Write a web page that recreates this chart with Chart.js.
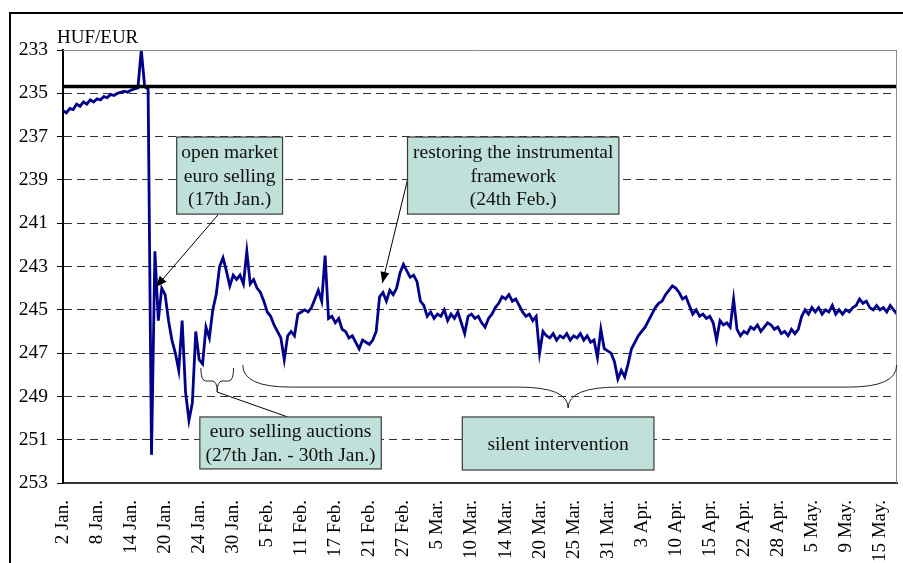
<!DOCTYPE html>
<html>
<head>
<meta charset="utf-8">
<script src="https://cdn.jsdelivr.net/npm/chart.js@4.4.1/dist/chart.umd.min.js"></script>
<style>
  body { margin: 0; background: #fff; }
</style>
</head>
<body>
<canvas id="rate" width="903" height="563"></canvas>
<script>
'use strict';

// tick labels on the x axis (one per label step)
var tickLabels = ['2 Jan.', '8 Jan.', '14 Jan.', '20 Jan.', '24 Jan.', '30 Jan.', '5 Feb.', '11 Feb.',
    '17 Feb.', '21 Feb.', '27 Feb.', '5 Mar.', '10 Mar.', '14 Mar.', '20 Mar.', '25 Mar.', '31 Mar.',
    '3 Apr.', '10 Apr.', '15 Apr.', '22 Apr.', '28 Apr.', '5 May.', '9 May.', '15 May.'];

var yTicks = [233, 235, 237, 239, 241, 243, 245, 247, 249, 251, 253];

// HUF/EUR, every tenth of a label step
var pointStep = 0.1;
var rateValues = [
    235.8, 235.9, 235.7, 235.75, 235.5, 235.6, 235.4, 235.5, 235.3, 235.4,
    235.25, 235.3, 235.15, 235.2, 235.05, 235.1, 235.0, 234.95, 234.9, 234.95,
    234.85, 234.8, 234.75, 233.0, 234.7, 234.8, 251.7, 242.3, 245.5, 244.0,
    244.3, 245.5, 246.4, 247.0, 247.8, 245.5, 248.8, 250.1, 249.3, 246.0,
    247.3, 247.5, 245.8, 246.3, 245.0, 244.3, 243.0, 242.6, 243.2, 243.9,
    243.4, 243.6, 243.4, 243.8, 242.3, 243.8, 243.6, 244.0, 244.2, 244.6,
    245.1, 245.3, 245.7, 246.0, 246.3, 247.3, 246.2, 246.0, 246.2, 245.2,
    245.1, 245.0, 245.1, 244.9, 244.5, 244.1, 244.6, 242.5, 245.4, 245.3,
    245.6, 245.4, 245.9, 246.0, 246.3, 246.2, 246.5, 246.8, 246.4, 246.5,
    246.6, 246.4, 246.0, 244.4, 244.2, 244.6, 244.1, 244.3, 244.0, 243.3,
    242.9, 243.2, 243.5, 243.4, 243.7, 244.6, 244.8, 245.3, 245.1, 245.4,
    245.2, 245.3, 245.0, 245.5, 245.2, 245.4, 245.1, 245.6, 246.1, 245.3,
    245.2, 245.4, 245.3, 245.6, 245.8, 245.4, 245.2, 244.9, 244.7, 244.4,
    244.5, 244.3, 244.6, 244.5, 244.8, 245.1, 245.3, 245.2, 245.5, 245.3,
    247.0, 246.0, 246.2, 246.3, 246.1, 246.4, 246.2, 246.3, 246.1, 246.4,
    246.2, 246.3, 246.1, 246.4, 246.2, 246.5, 246.4, 247.2, 245.9, 246.8,
    246.9, 247.0, 247.4, 248.2, 247.8, 248.1, 247.5, 246.8, 246.5, 246.2,
    246.0, 245.8, 245.5, 245.2, 244.9, 244.7, 244.6, 244.3, 244.1, 243.9,
    244.0, 244.2, 244.5, 244.4, 244.8, 245.2, 245.0, 245.3, 245.2, 245.4,
    245.3, 245.6, 246.4, 245.5, 245.7, 245.6, 245.8, 244.5, 245.9, 246.2,
    246.0, 246.1, 245.8, 245.9, 245.7, 246.0, 245.8, 245.6, 245.7, 245.9,
    245.8, 246.1, 246.0, 246.2, 245.9, 246.1, 245.9, 245.3, 245.0, 245.2,
    244.9, 245.1, 244.9, 245.2, 245.0, 245.1, 244.8, 245.2, 245.0, 245.2,
    245.0, 245.1, 244.9, 244.8, 244.5, 244.7, 244.6, 244.9, 245.0, 244.8,
    245.0, 244.9, 245.1, 244.8, 245.0, 245.2
];

// edge of the band (thick black line)
var bandEdge = 234.69;

// annotations, in axis units (label step, HUF/EUR)
var noteBoxes = [
    { x1: 3.34, x2: 6.45, y1: 237.02, y2: 240.58, lines: ['open market', 'euro selling', '(17th Jan.)'] },
    { x1: 10.12, x2: 16.33, y1: 237.02, y2: 240.58, lines: ['restoring the instrumental', 'framework', '(24th Feb.)'] },
    { x1: 4.02, x2: 9.35, y1: 249.95, y2: 252.35, lines: ['euro selling auctions', '(27th Jan. - 30th Jan.)'] },
    { x1: 11.73, x2: 17.36, y1: 249.95, y2: 252.4, lines: ['silent intervention'] }
];
var noteArrows = [
    { from: [4.55, 240.62], to: [2.73, 243.95], head: true },
    { from: [10.12, 239.0], to: [9.38, 243.76], head: true },
    { from: [6.6, 249.95], to: [4.53, 248.8], head: false }
];
var noteBraces = [
    { x1: 4.05, x2: 5.01, mid: 4.53, top: 247.69, bar: 248.29, tip: 248.8, rEnd: 5, rMid: 5 },
    { x1: 5.28, x2: 24.49, mid: 14.84, top: 247.55, bar: 248.57, tip: 249.54, rEnd: 48, rMid: 50 }
];

var serif = 'Liberation Serif';

var notesPlugin = {
    id: 'notes',
    beforeDraw: function (chart) {
        var ctx = chart.ctx;
        ctx.save();
        // outer frame
        ctx.strokeStyle = '#000';
        ctx.lineWidth = 2;
        ctx.beginPath();
        ctx.moveTo(10, 563);
        ctx.lineTo(10, 13);
        ctx.lineTo(903, 13);
        ctx.stroke();
        // unit label
        ctx.fillStyle = '#000';
        ctx.font = '19px "' + serif + '"';
        ctx.textAlign = 'left';
        ctx.textBaseline = 'alphabetic';
        ctx.fillText('HUF/EUR', chart.chartArea.left - 6, chart.chartArea.top - 7);
        ctx.restore();
    },
    afterDatasetsDraw: function (chart) {
        var ctx = chart.ctx;
        var x = chart.scales.x, y = chart.scales.y, a = chart.chartArea;
        ctx.save();

        // top / right plot edge
        ctx.strokeStyle = '#8c8c8c';
        ctx.lineWidth = 1;
        ctx.beginPath();
        ctx.moveTo(a.left, a.top + 0.5);
        ctx.lineTo(a.right - 0.5, a.top + 0.5);
        ctx.lineTo(a.right - 0.5, a.bottom);
        ctx.stroke();

        // arrows and leader line
        ctx.strokeStyle = '#000';
        ctx.fillStyle = '#000';
        ctx.lineWidth = 1;
        noteArrows.forEach(function (n) {
            var x0 = x.getPixelForValue(n.from[0]), y0 = y.getPixelForValue(n.from[1]);
            var x1 = x.getPixelForValue(n.to[0]), y1 = y.getPixelForValue(n.to[1]);
            ctx.beginPath();
            ctx.moveTo(x0, y0);
            ctx.lineTo(x1, y1);
            ctx.stroke();
            if (n.head) {
                var ang = Math.atan2(y1 - y0, x1 - x0);
                ctx.beginPath();
                ctx.moveTo(x1, y1);
                ctx.lineTo(x1 - 11 * Math.cos(ang) + 4.5 * Math.sin(ang), y1 - 11 * Math.sin(ang) - 4.5 * Math.cos(ang));
                ctx.lineTo(x1 - 11 * Math.cos(ang) - 4.5 * Math.sin(ang), y1 - 11 * Math.sin(ang) + 4.5 * Math.cos(ang));
                ctx.closePath();
                ctx.fill();
            }
        });

        // curly braces
        ctx.strokeStyle = '#222';
        noteBraces.forEach(function (b) {
            var l = x.getPixelForValue(b.x1), r = x.getPixelForValue(b.x2), m = x.getPixelForValue(b.mid);
            var t = y.getPixelForValue(b.top), bar = y.getPixelForValue(b.bar), tip = y.getPixelForValue(b.tip);
            ctx.beginPath();
            ctx.moveTo(l, t);
            ctx.quadraticCurveTo(l, bar, l + b.rEnd, bar);
            ctx.lineTo(m - b.rMid, bar);
            ctx.quadraticCurveTo(m, bar, m, tip);
            ctx.quadraticCurveTo(m, bar, m + b.rMid, bar);
            ctx.lineTo(r - b.rEnd, bar);
            ctx.quadraticCurveTo(r, bar, r, t);
            ctx.stroke();
        });

        // text boxes
        noteBoxes.forEach(function (b) {
            var l = x.getPixelForValue(b.x1), r = x.getPixelForValue(b.x2);
            var t = y.getPixelForValue(b.y1), btm = y.getPixelForValue(b.y2);
            ctx.fillStyle = '#c0e1da';
            ctx.fillRect(l, t, r - l, btm - t);
            ctx.strokeStyle = '#3a3a3a';
            ctx.lineWidth = 1.2;
            ctx.strokeRect(l, t, r - l, btm - t);
            ctx.fillStyle = '#111';
            ctx.font = '19.5px "' + serif + '"';
            ctx.textAlign = 'center';
            ctx.textBaseline = 'middle';
            var lineH = 23.5;
            var cy = (t + btm) / 2 - (b.lines.length - 1) * lineH / 2;
            b.lines.forEach(function (s, i) {
                ctx.fillText(s, (l + r) / 2, cy + i * lineH + 1);
            });
        });
        ctx.restore();
    }
};

var chart_body = new Chart(document.getElementById('rate'), {
    type: 'line',
    data: {
        datasets: [
            {
                data: rateValues.map(function (v, i) { return { x: i * pointStep, y: v }; }),
                borderColor: '#00008b',
                borderWidth: 2.8,
                pointRadius: 0,
                tension: 0,
                order: 2
            },
            {
                data: [{ x: 0, y: bandEdge }, { x: 24.5, y: bandEdge }],
                borderColor: '#000',
                borderWidth: 3.5,
                pointRadius: 0,
                order: 1
            }
        ]
    },
    options: {
        responsive: false,
        animation: false,
        layout: { padding: { top: 50, right: 6, left: 0, bottom: 0 } },
        plugins: { legend: { display: false }, tooltip: { enabled: false } },
        scales: {
            x: {
                type: 'linear',
                min: 0,
                max: 24.5,
                afterBuildTicks: function (s) { s.ticks = tickLabels.map(function (l, i) { return { value: i }; }); },
                afterFit: function (s) { s.height = 80; s.paddingLeft = 0; s.paddingRight = 0; },
                ticks: {
                    callback: function (v) { return tickLabels[v]; },
                    minRotation: 90,
                    maxRotation: 90,
                    autoSkip: false,
                    padding: 17,
                    color: '#000',
                    font: { family: serif, size: 19 }
                },
                grid: { display: false, drawTicks: false },
                border: { color: '#333', width: 2 }
            },
            y: {
                reverse: true,
                min: 233,
                max: 253,
                afterBuildTicks: function (s) { s.ticks = yTicks.map(function (v) { return { value: v }; }); },
                afterFit: function (s) { s.width = 63; },
                ticks: { color: '#000', padding: 9, font: { family: serif, size: 19.5 } },
                grid: { color: '#333', lineWidth: 1, tickLength: 6, tickColor: '#000', tickBorderDash: [] },
                border: { color: '#000', width: 2, dash: [8, 5] }
            }
        }
    },
    plugins: [notesPlugin]
});
</script>
</body>
</html>
